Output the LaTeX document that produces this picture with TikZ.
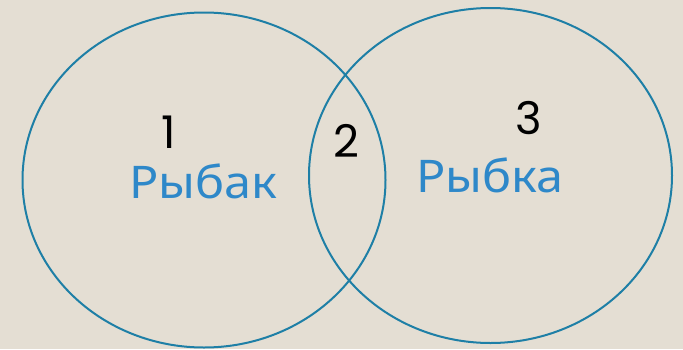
\documentclass[tikz,border=0pt]{standalone}
\usepackage{fontspec}
\setmainfont{Noto Sans}[FakeStretch=1.08]
\newfontfamily\digitfont{Poppins}
\definecolor{bg}{HTML}{E4DED3}
\definecolor{ring}{HTML}{1E7FA6}
\definecolor{word}{HTML}{2E88C9}
\begin{document}
\begin{tikzpicture}[x=1pt,y=-1pt,
  ringstyle/.style={draw=ring,line width=2pt},
  wordstyle/.style={text=word,font=\fontsize{45}{45}\selectfont,inner sep=0pt,anchor=base west},
  numstyle/.style={text=black,font=\digitfont\fontsize{45}{45}\selectfont,inner sep=0pt,anchor=base west}]
\fill[bg] (0,0) rectangle (683,349);
\useasboundingbox (0,0) rectangle (683,349);
\draw[ringstyle] (204,180) ellipse [x radius=181.5, y radius=167.5];
\draw[ringstyle] (490.5,175.5) ellipse [x radius=181.5, y radius=167.5];
\node[wordstyle] (w1) at (129,198.5) {Рыбак};
\node[wordstyle] (w2) at (416,192.5) {Рыбка};
\node[numstyle] (n1) at (161,148.5) {1};
\node[numstyle] (n2) at (333,157) {2};
\node[numstyle] (n3) at (515,134.5) {3};
\end{tikzpicture}
\end{document}
